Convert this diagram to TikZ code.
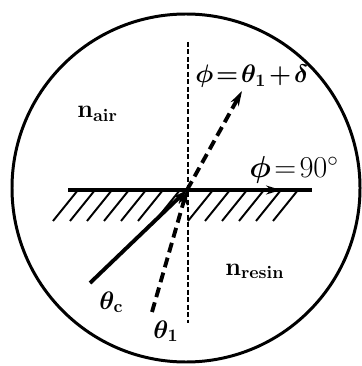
\documentclass[tikz,border=0pt]{standalone}
\usepackage{amsmath,bm}
\usetikzlibrary{arrows.meta}

\begin{document}
\begin{tikzpicture}[x=0.2mm, y=-0.2mm,
    every node/.style={font=\Large, inner sep=0pt, anchor=base west},
    ray/.style={line width=2.2pt, -{Stealth[length=3mm, width=1.8mm]}},
    dashray/.style={ray, dash pattern=on 2mm off 1.1mm},
    normal/.style={line width=0.6pt, dash pattern=on 1mm off 0.5mm},
    hatch/.style={line width=1.1pt}]

  \useasboundingbox (0,0) rectangle (361,366);

  % field of view
  \draw[line width=1.7pt] (186,188) circle[radius=174];

  % interface and normal
  \coordinate (O) at (187,190);
  \coordinate (sL) at (68,190);
  \coordinate (sR) at (312,190);
  \coordinate (nT) at (188,42);
  \coordinate (nB) at (188,323);
  \foreach \b in {53,70,...,155} \draw[hatch] (\b,221) -- ++(25,-31);
  \foreach \b in {188,205,...,273} \draw[hatch] (\b,221) -- ++(25,-31);
  \draw[normal] (nT) -- (nB);
  \draw[line width=2.6pt] (sL) -- (sR);

  % rays
  \coordinate (cS) at (90,283);
  \coordinate (iS) at (152,312);
  \coordinate (rE) at (242,91);
  \coordinate (gE) at (281,190);
  \draw[ray] (cS) -- (O);
  \draw[dashray] (iS) -- (O);
  \draw[dashray] (O) -- (rE);
  \draw[ray, line width=1.2pt] (O) -- (gE);

  % labels
  \node (phi1) at (195,83) {\thickmuskip=2mu \medmuskip=2mu $\bm{\phi=\theta_1+\delta}$};
  \node[font=\LARGE] (phi90) at (249,178) {\thickmuskip=2mu $\bm{\phi}=90^\circ$};
  \node (nair) at (77,118) {$\mathbf{n}_{\mathbf{air}}$};
  \node (nresin) at (225,275) {$\mathbf{n}_{\mathbf{resin}}$};
  \node (thc) at (99,309) {$\bm{\theta}_{\mathbf{c}}$};
  \node (th1) at (153,338) {$\bm{\theta_1}$};
\end{tikzpicture}
\end{document}
